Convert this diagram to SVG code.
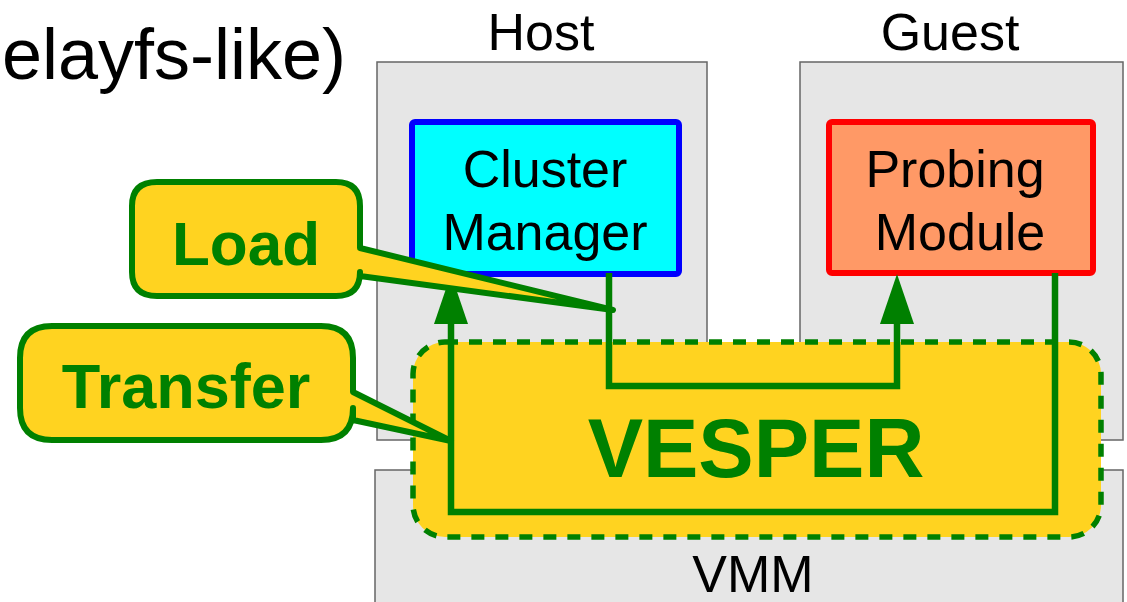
<svg xmlns="http://www.w3.org/2000/svg" width="1127" height="602" viewBox="0 0 1127 602">
  <style>
    .area { fill: #e6e6e6; stroke: #666666; stroke-width: 1.5; }
    .lbl { font-family: "Liberation Sans", Arial, sans-serif; fill: #000000; text-anchor: middle; }
    .big { font-size: 52px; }
    .flow { fill: none; stroke: #008000; stroke-width: 6.5; stroke-linejoin: miter; }
    .callout { fill: #ffd320; stroke: #008000; stroke-width: 6; stroke-linejoin: round; }
    .ctext { font-family: "Liberation Sans", Arial, sans-serif; font-weight: bold; fill: #008000; text-anchor: middle; }
  </style>
  <defs>
    <marker id="arrow" viewBox="0 0 50 34" refX="0" refY="17" markerWidth="50" markerHeight="34" markerUnits="userSpaceOnUse" orient="auto">
      <path d="M0,0 L50,17 L0,34 Z" fill="#008000"/>
    </marker>
  </defs>

  <rect width="1127" height="602" fill="#ffffff"/>

  <!-- partial title -->
  <text class="lbl" x="346" y="79" style="font-size:72px;text-anchor:end">elayfs-like)</text>

  <!-- layers -->
  <g id="host">
    <rect class="area" x="377" y="62" width="330" height="378"/>
    <text class="lbl big" x="541" y="50">Host</text>
  </g>
  <g id="guest">
    <rect class="area" x="800" y="62" width="323" height="378"/>
    <text class="lbl big" x="950" y="50">Guest</text>
  </g>
  <g id="vmm">
    <rect class="area" x="375" y="470" width="748" height="140"/>
    <text class="lbl big" x="753" y="592">VMM</text>
  </g>

  <!-- components -->
  <g id="cluster-manager">
    <rect x="412" y="122" width="267" height="152" rx="3" fill="#00ffff" stroke="#0000ff" stroke-width="6"/>
    <text class="lbl big" x="545" y="187">Cluster</text>
    <text class="lbl big" x="545" y="250">Manager</text>
  </g>
  <g id="probing-module">
    <rect x="829" y="122" width="264" height="151" rx="3" fill="#ff9966" stroke="#ff0000" stroke-width="6"/>
    <text class="lbl big" x="955" y="187">Probing</text>
    <text class="lbl big" x="960" y="250">Module</text>
  </g>

  <g id="vesper">
    <rect x="413" y="342" width="688" height="195" rx="32" fill="#ffd320" stroke="#008000" stroke-width="5.5" stroke-dasharray="13 11"/>
    <text class="ctext" x="756" y="477" style="font-size:83px">VESPER</text>
  </g>

  <!-- data paths -->
  <g id="connectors">
    <path class="flow" d="M1055,273 V512 H451 V324" marker-end="url(#arrow)"/>
    <path class="flow" d="M609,273 V386 H897 V324" marker-end="url(#arrow)"/>
  </g>

  <!-- callouts -->
  <g id="transfer-callout">
    <path class="callout" d="M52,326 H321 Q353,326 353,358 V392 L451,441 L353,420 V408 Q353,440 321,440 H52 Q20,440 20,408 V358 Q20,326 52,326 Z"/>
    <text class="ctext" x="186" y="408" style="font-size:63px">Transfer</text>
  </g>
  <g id="load-callout">
    <path class="callout" d="M157,182 H336 Q360,182 360,206 V248 L613,310 L360,276 V272 Q360,296 336,296 H157 Q132,296 132,272 V206 Q132,182 157,182 Z"/>
    <text class="ctext" x="246" y="265" style="font-size:62px">Load</text>
  </g>
</svg>
